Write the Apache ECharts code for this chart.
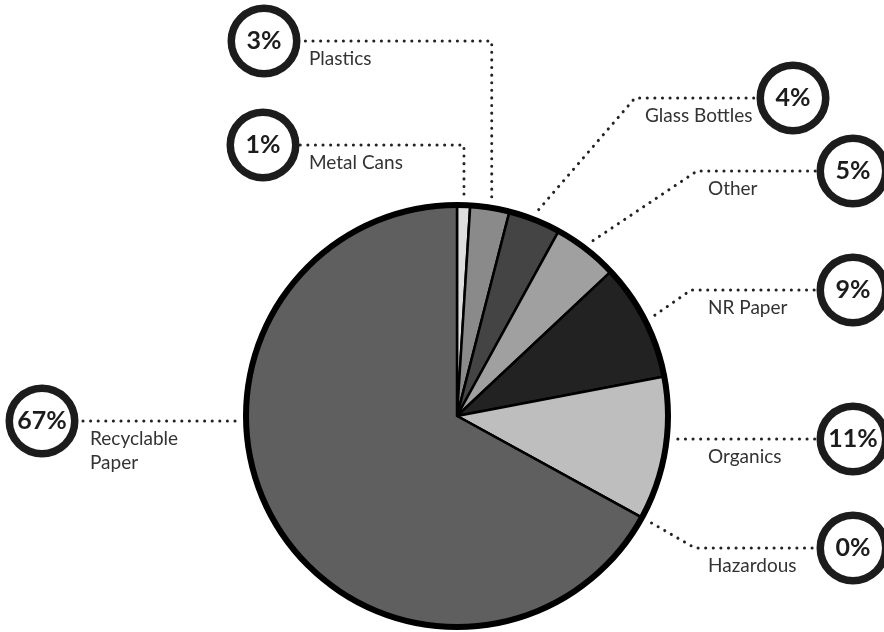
<!DOCTYPE html>
<html>
<head>
<meta charset="utf-8">
<script src="https://cdn.jsdelivr.net/npm/echarts@6/dist/echarts.min.js"></script>
<style>
  html, body { margin: 0; padding: 0; background: #fff; }
  #chart { width: 884px; height: 632px; }
</style>
</head>
<body>
<div id="chart"></div>
<script>
// ---- data ----
const categories = ['Metal Cans', 'Plastics', 'Glass Bottles', 'Other', 'NR Paper', 'Organics', 'Hazardous', 'Recyclable Paper'];
const shares = [1, 3, 4, 5, 9, 11, 0, 67];
const nameLabels = ['Metal Cans', 'Plastics', 'Glass Bottles', 'Other', 'NR Paper', 'Organics', 'Hazardous', 'Recyclable\nPaper'];

// ---- styles / layout ----
const sliceColors = ['#dedede', '#8a8a8a', '#444444', '#a0a0a0', '#222222', '#bebebe', '#bebebe', '#5f5f5f'];
const CX = 457, CY = 416, R_SLICE = 211, R_LINE = 222, BADGE_R = 33;
const FONT = 'Lato, "DejaVu Sans Condensed", sans-serif';
// badge placement per slice: badge centre, leader mode, elbow x, text x
const badgeLayout = [
  { bx: 263, by: 145, mode: 'v', side: 'left', tx: 309 },
  { bx: 264, by: 41, mode: 'v', side: 'left', tx: 309 },
  { bx: 793, by: 98, mode: 'e', ex: 635, side: 'right', tx: 645 },
  { bx: 853, by: 171, mode: 'e', ex: 697, side: 'right', tx: 708 },
  { bx: 853, by: 290, mode: 'e', ex: 691, side: 'right', tx: 708 },
  { bx: 853, by: 439, mode: 'h', side: 'right', tx: 708 },
  { bx: 853, by: 548, mode: 'e', ex: 695, side: 'right', tx: 708 },
  { bx: 42, by: 421, mode: 'h', side: 'left', tx: 90 }
];

const total = shares.reduce((a, b) => a + b, 0);
function midAngle(i) {
  let cum = 0;
  for (let k = 0; k < i; k++) cum += shares[k];
  return (cum + shares[i] / 2) / total * Math.PI * 2;
}
function linePoints(i) {
  const L = badgeLayout[i];
  const endX = L.side === 'left' ? L.bx + BADGE_R : L.bx - BADGE_R;
  let start;
  if (L.mode === 'h') {
    const dy = L.by - CY;
    const dx = Math.sqrt(R_LINE * R_LINE - dy * dy);
    start = [L.side === 'left' ? CX - dx : CX + dx, L.by];
    return [start, [(start[0] + endX) / 2, L.by], [endX, L.by]];
  }
  const a = midAngle(i);
  start = [CX + R_LINE * Math.sin(a), CY - R_LINE * Math.cos(a)];
  if (L.mode === 'v') {
    return [start, [start[0], L.by], [endX, L.by]];
  }
  return [start, [L.ex, L.by], [endX, L.by]];
}

const pieData = categories.map((c, i) => ({ name: c, value: shares[i], itemStyle: { color: sliceColors[i] } }));
const nameData = categories.map((c, i) => ({ name: nameLabels[i], value: shares[i] }));

const chart = echarts.init(document.getElementById('chart'));
chart.setOption({
  animation: false,
  series: [
    {
      type: 'pie',
      center: [CX, CY],
      radius: R_SLICE,
      startAngle: 90,
      clockwise: true,
      avoidLabelOverlap: false,
      silent: true,
      z: 2,
      itemStyle: { borderColor: '#000', borderWidth: 2.5 },
      data: pieData,
      label: {
        show: true,
        formatter: p => '{p|' + p.value + '%}',
        rich: {
          p: {
            width: 58, height: 58, lineHeight: 58, align: 'center',
            borderRadius: 33, borderWidth: 7.5, borderColor: '#1c1c1c',
            backgroundColor: '#fff',
            fontFamily: FONT, fontSize: 25, fontWeight: 'bold', color: '#1c1c1c'
          }
        }
      },
      labelLine: {
        show: true,
        lineStyle: { color: '#222', width: 3, type: [0.1, 7.5], cap: 'round' }
      },
      labelLayout: function (params) {
        const L = badgeLayout[params.dataIndex];
        return {
          x: L.bx, y: L.by, align: 'center', verticalAlign: 'middle',
          labelLinePoints: linePoints(params.dataIndex)
        };
      }
    },
    {
      type: 'pie',
      center: [CX, CY],
      radius: [R_SLICE - 3, R_SLICE + 3],
      silent: true,
      z: 3,
      data: [{ value: 1, itemStyle: { color: '#000' } }],
      label: { show: false },
      labelLine: { show: false }
    },
    {
      type: 'pie',
      center: [CX, CY],
      radius: R_SLICE,
      startAngle: 90,
      silent: true,
      avoidLabelOverlap: false,
      z: 1,
      itemStyle: { color: 'rgba(0,0,0,0)', borderWidth: 0 },
      data: nameData,
      label: {
        show: true,
        formatter: '{b}',
        fontFamily: FONT, fontSize: 19, lineHeight: 24, color: '#333'
      },
      labelLine: { show: false },
      labelLayout: function (params) {
        const L = badgeLayout[params.dataIndex];
        return { x: L.tx, y: L.by + 6, align: 'left', verticalAlign: 'top' };
      }
    }
  ]
});
</script>
</body>
</html>
